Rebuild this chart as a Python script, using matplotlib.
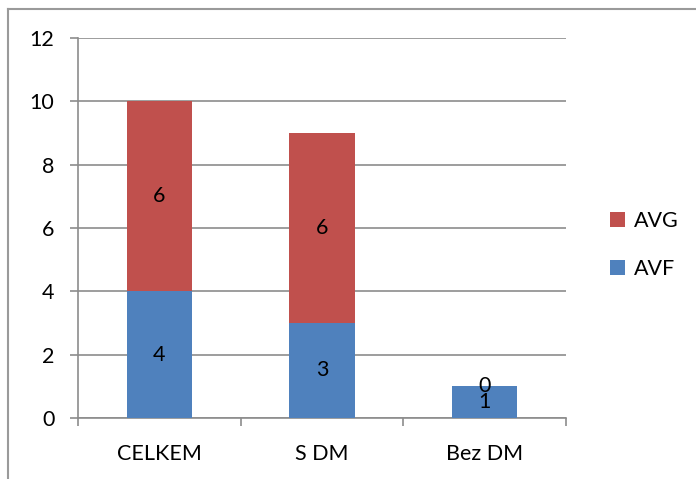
import matplotlib
matplotlib.use("Agg")
import matplotlib.pyplot as plt
from matplotlib.lines import Line2D
import numpy as np

plt.rcParams['font.family'] = ['Lato', 'DejaVu Sans']

categories = ['CELKEM', 'S DM', 'Bez DM']
avf = [4, 3, 1]
avg = [6, 6, 0]
yticks = [0, 2, 4, 6, 8, 10, 12]

blue = '#4F81BD'
red = '#C0504D'
grid = '#8C8C8C'
fs = 15.5

fig = plt.figure(figsize=(6.96, 4.79), dpi=100)
ax = fig.add_axes([78 / 696, 1 - 418 / 479, (566 - 78) / 696, (418 - 38) / 479])

x = np.arange(len(categories))
b1 = ax.bar(x, avf, width=0.4, color=blue, label='AVF', zorder=3)
b2 = ax.bar(x, avg, width=0.4, bottom=avf, color=red, label='AVG', zorder=3)

# value labels in the middle of each segment
for xi, v in zip(x, avf):
    ax.text(xi, v / 2, str(v), ha='center', va='center', fontsize=fs, zorder=4)
for xi, v, base in zip(x, avg, avf):
    ax.text(xi, base + v / 2, str(v), ha='center', va='center', fontsize=fs, zorder=4)

ax.set_xlim(-0.5, len(categories) - 0.5)
ax.set_ylim(0, 12)
ax.set_yticks(yticks)
ax.set_xticks(x)
ax.set_xticklabels(categories)
ax.set_xticks(np.arange(len(categories) + 1) - 0.5, minor=True)
ax.tick_params(axis='x', which='major', length=0, pad=19, labelsize=fs)
ax.tick_params(axis='x', which='minor', length=6, color=grid, width=1.2)
ax.tick_params(axis='y', length=6, color=grid, width=1.2, pad=11, labelsize=fs)
ax.yaxis.grid(True, color=grid, linewidth=1.2, zorder=0)
for s in ['top', 'right']:
    ax.spines[s].set_visible(False)
for s in ['left', 'bottom']:
    ax.spines[s].set_color(grid)
    ax.spines[s].set_linewidth(1.2)

handles = [b2, b1]
ax.legend(handles, ['AVG', 'AVF'], loc='center left', bbox_to_anchor=(1.05, 0.455),
          frameon=False, fontsize=fs, handlelength=0.72, handleheight=0.72,
          handletextpad=0.4, labelspacing=1.3)

# outer chart border
fig.add_artist(Line2D([8 / 696, 8 / 696], [0, 1 - 9 / 479], color='#9A9A9A', lw=1.5,
                      transform=fig.transFigure))
fig.add_artist(Line2D([8 / 696, 1], [1 - 9 / 479, 1 - 9 / 479], color='#9A9A9A', lw=1.5,
                      transform=fig.transFigure))

fig.savefig('out.png', dpi=100)
